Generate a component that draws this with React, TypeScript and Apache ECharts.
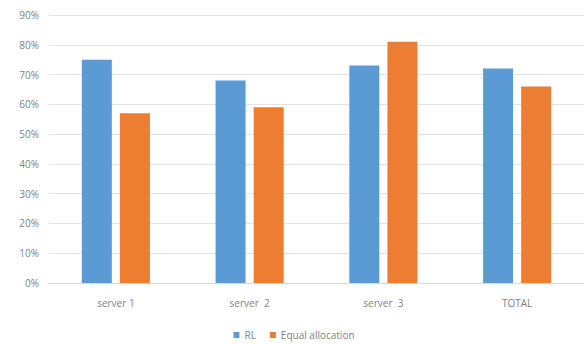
import React, { useEffect, useRef } from "react";
import * as echarts from "echarts";

const categories = ["server 1", "server  2", "server  3", "TOTAL"];
const rlValues = [75, 68, 73, 72];
const equalValues = [57, 59, 81, 66];
const seriesNames = ["RL", "Equal allocation"];

export default function App() {
  const ref = useRef<HTMLDivElement>(null);
  useEffect(() => {
    if (!ref.current) return;
    const chart = echarts.init(ref.current, null, { renderer: "svg" });
    const textStyle = { color: "#7f7f7f", fontFamily: "Open Sans", fontSize: 10 };
    chart.setOption({
      animation: false,
      backgroundColor: "#ffffff",
      grid: { left: 49, right: 4, top: 15, bottom: 61, containLabel: false },
      legend: {
        data: seriesNames,
        top: 328,
        padding: 0,
        left: "center",
        itemWidth: 6,
        itemHeight: 6,
        itemGap: 14,
        icon: "rect",
        textStyle: { ...textStyle, fontSize: 10, color: "#7f7f7f", lineHeight: 14 },
      },
      xAxis: {
        type: "category",
        data: categories,
        axisLine: { lineStyle: { color: "#d9d9d9" } },
        axisTick: { show: false },
        axisLabel: { ...textStyle, margin: 15 },
      },
      yAxis: {
        type: "value",
        min: 0,
        max: 90,
        interval: 10,
        axisLabel: { ...textStyle, formatter: "{value}%", margin: 10 },
        splitLine: { lineStyle: { color: "#e3e3e3" } },
        axisLine: { show: false },
        axisTick: { show: false },
      },
      series: [
        {
          name: seriesNames[0],
          type: "bar",
          data: rlValues,
          barWidth: 30,
          barGap: "27%",
          itemStyle: { color: "#5b9bd5" },
        },
        {
          name: seriesNames[1],
          type: "bar",
          data: equalValues,
          barWidth: 30,
          itemStyle: { color: "#ed7d31" },
        },
      ],
    });
    return () => chart.dispose();
  }, []);
  return <div ref={ref} style={{ width: 588, height: 344, position: "absolute", left: 0, top: 0 }} />;
}
